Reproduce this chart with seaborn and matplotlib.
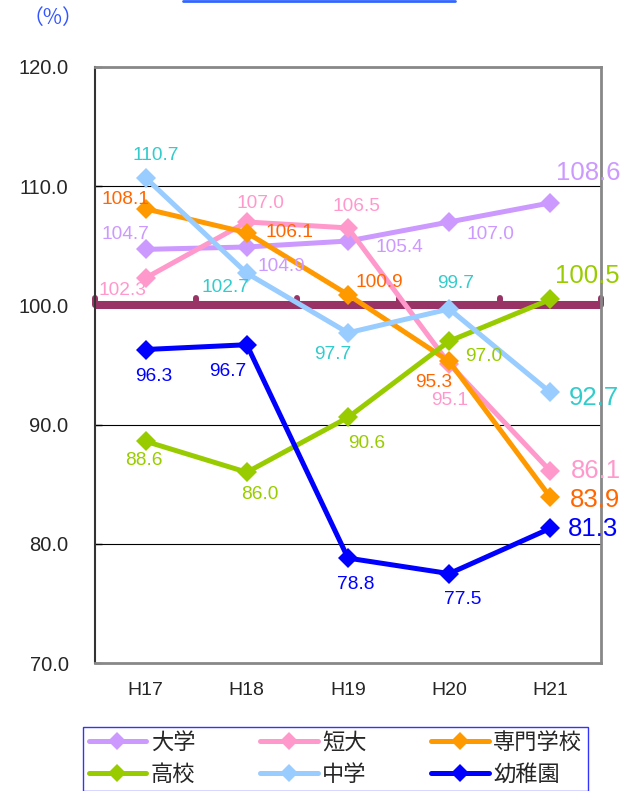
"""Enrollment index by school type (H17-H21)"""
import matplotlib
matplotlib.use("Agg")
import matplotlib.pyplot as plt
from matplotlib.lines import Line2D
import seaborn as sns
import pandas as pd
import numpy as np

sns.set_style("white")
plt.rcParams['font.family'] = ['Liberation Sans', 'Noto Sans CJK JP', 'DejaVu Sans']

# data
years = ['H17', 'H18', 'H19', 'H20', 'H21']
schools = ['大学', '短大', '専門学校', '高校', '中学', '幼稚園']
daigaku = [104.7, 104.9, 105.4, 107.0, 108.6]
tandai = [102.3, 107.0, 106.5, 95.1, 86.1]
senmon = [108.1, 106.1, 100.9, 95.3, 83.9]
koukou = [88.6, 86.0, 90.6, 97.0, 100.5]
chugaku = [110.7, 102.7, 97.7, 99.7, 92.7]
youchien = [96.3, 96.7, 78.8, 77.5, 81.3]
series = [daigaku, tandai, senmon, koukou, chugaku, youchien]
y_ticks = [70, 80, 90, 100, 110, 120]

# styles
line_colors = ['#cc99ff', '#ff99cc', '#ff9900', '#99cc00', '#99ccff', '#0000ff']
label_colors = ['#cc99ff', '#ff99cc', '#ff6600', '#99cc00', '#33cccc', '#0000ff']
# label offsets in pixels (dx, dy), y up
label_offsets = [
    [(-20, 15), (35, -20), (51, -6), (41, -13), (38, 30)],
    [(-23, -13), (14, 18), (8, 21), (0, -37), (46, 0)],
    [(-20, 9), (43, 0), (31, 12), (-16, -21), (45, -3)],
    [(-2, -19), (13, -22), (19, -26), (34, -15), (37, 23)],
    [(10, 22), (-21, -14), (-15, -22), (6, 25), (43, -6)],
    [(8, -27), (-19, -27), (8, -26), (13, -26), (43, -1)],
]

df = pd.DataFrame({
    'year': years * len(schools),
    'school': np.repeat(schools, len(years)),
    'value': np.concatenate(series),
})

fig = plt.figure(figsize=(6.35, 7.91), dpi=100)
ax = fig.add_axes([95 / 635, 1 - 663 / 791, 506 / 635, 596 / 791])

# grid lines and the 100 baseline
for v in y_ticks[1:-1]:
    ax.axhline(v, color='black', lw=0.8, zorder=0)
ax.axhline(100, color='#993366', lw=5.8, solid_capstyle='round', zorder=1)
bounds = np.arange(len(years) + 1) - 0.5
vl = ax.vlines(bounds, 100, 100.6, color='#993366', lw=4.3, zorder=1, clip_on=False)
vl.set_capstyle('round')

sns.lineplot(data=df, x='year', y='value', hue='school', hue_order=schools,
             palette=line_colors, marker='D', markersize=10, markeredgewidth=0,
             linewidth=3.6, sort=False, legend=False, ax=ax, zorder=3)

for i, vals in enumerate(series):
    for j, v in enumerate(vals):
        last = j == len(vals) - 1
        ax.annotate(f'{v:.1f}', (j, v), xytext=label_offsets[i][j],
                    textcoords='offset pixels', ha='center', va='center',
                    color=label_colors[i], fontsize=18.5 if last else 13.8,
                    zorder=4)

ax.set_xlim(-0.5, len(years) - 0.5)
ax.set_ylim(70, 120)
ax.set_yticks(y_ticks)
ax.set_yticklabels([f'{t:.1f}' for t in y_ticks])
ax.set_xlabel('')
ax.set_ylabel('')
ax.tick_params(axis='y', direction='in', length=5, width=1, color='black',
               labelsize=14.5, pad=19, left=True)
ax.tick_params(axis='x', length=0, labelsize=14, pad=14)

for side in ['top', 'right', 'bottom']:
    ax.spines[side].set_color('#888888')
    ax.spines[side].set_linewidth(2)
ax.spines['left'].set_color('#333333')
ax.spines['left'].set_linewidth(1.5)

# unit label and top rule
fig.text(53 / 635, 1 - 18 / 791, '（%）', color='#3355ff', fontsize=15,
         ha='center', va='center', family=['Noto Sans CJK JP', 'DejaVu Sans'])
fig.add_artist(Line2D([183 / 635, 455 / 635], [1 - 1 / 791, 1 - 1 / 791],
                      color='#3366ff', lw=2))

# legend filled row by row (matplotlib fills columns first)
ncol = 3
order = [r * ncol + c for c in range(ncol) for r in range(len(schools) // ncol)]
handles = [Line2D([], [], color=c, lw=3.6, marker='D', markersize=9,
                  markeredgewidth=0) for c in line_colors]
leg = fig.legend([handles[k] for k in order], [schools[k] for k in order],
                 loc='upper left', ncol=ncol,
                 bbox_to_anchor=(83 / 635, 1 - 727 / 791), borderaxespad=0,
                 fontsize=16, handlelength=2.6, handletextpad=0.2,
                 columnspacing=2.9, labelspacing=0.5, borderpad=0.25,
                 frameon=True, fancybox=False, framealpha=1)
leg.get_frame().set_edgecolor('#3333ff')
leg.get_frame().set_linewidth(1)

fig.savefig('out.png', dpi=100)
